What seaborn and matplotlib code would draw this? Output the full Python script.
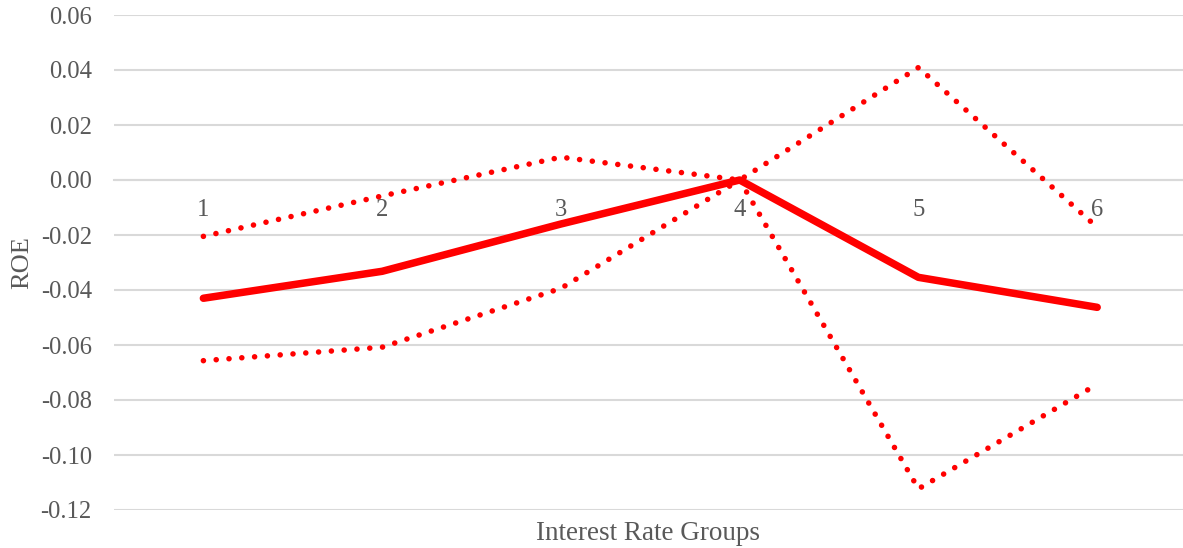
import matplotlib
matplotlib.use("Agg")
import matplotlib.pyplot as plt
import seaborn as sns
import pandas as pd

# Interest rate groups and ROE estimates with confidence bounds
groups = [1, 2, 3, 4, 5, 6]
roe_estimate = [-0.043, -0.0332, -0.016, 0.000, -0.0354, -0.0463]
roe_upper = [-0.0205, -0.0058, 0.0083, 0.000, 0.0409, -0.0172]
roe_lower = [-0.0657, -0.0608, -0.0394, 0.000, -0.1123, -0.0743]
y_ticks = [-0.12, -0.10, -0.08, -0.06, -0.04, -0.02, 0.00, 0.02, 0.04, 0.06]

df = pd.DataFrame({
    "group": groups,
    "estimate": roe_estimate,
    "upper": roe_upper,
    "lower": roe_lower,
})

sns.set_theme(style="white")
plt.rcParams["font.family"] = ["Liberation Serif", "DejaVu Serif"]

text_color = "#595959"
grid_color = "#d9d9d9"
red = "#ff0000"

fig = plt.figure(figsize=(11.83, 5.48), dpi=100)
ax = fig.add_axes([114 / 1183, 1 - 510 / 548, 1 - 114 / 1183, (510 - 15) / 548])

dot_style = (0, (0.01, 2.3))
sns.lineplot(data=df, x="group", y="upper", ax=ax, color=red, linewidth=4.0,
             linestyle=dot_style, dash_capstyle="round")
sns.lineplot(data=df, x="group", y="lower", ax=ax, color=red, linewidth=4.0,
             linestyle=dot_style, dash_capstyle="round")
sns.lineplot(data=df, x="group", y="estimate", ax=ax, color=red, linewidth=5.4,
             solid_capstyle="round", solid_joinstyle="round")

ax.set_ylim(-0.12, 0.06)
ax.set_xlim(0.5, 6.48)
ax.set_yticks(y_ticks)
ax.set_yticklabels([f"{v:.2f}" for v in y_ticks])
ax.set_xticks(groups)
ax.set_xticklabels([str(g) for g in groups])

ax.yaxis.grid(True, color=grid_color, linewidth=1.5)
ax.xaxis.grid(False)
ax.set_axisbelow(True)

for side in ["top", "right", "left"]:
    ax.spines[side].set_visible(False)
ax.spines["bottom"].set_position(("data", 0))
ax.spines["bottom"].set_color(grid_color)
ax.spines["bottom"].set_linewidth(1.5)
ax.spines["bottom"].set_zorder(0.5)

ax.tick_params(axis="y", length=0, pad=16, labelsize=17.7, labelcolor=text_color)
ax.tick_params(axis="x", length=0, pad=13.5, labelsize=17.7, labelcolor=text_color)

ax.set_ylabel("ROE", fontsize=19, color=text_color)
ax.yaxis.set_label_coords(-0.076, 0.5)
ax.set_xlabel("Interest Rate Groups", fontsize=19.5, color=text_color)
ax.xaxis.set_label_coords(0.5, -0.022)

fig.savefig("out.png", dpi=100)
